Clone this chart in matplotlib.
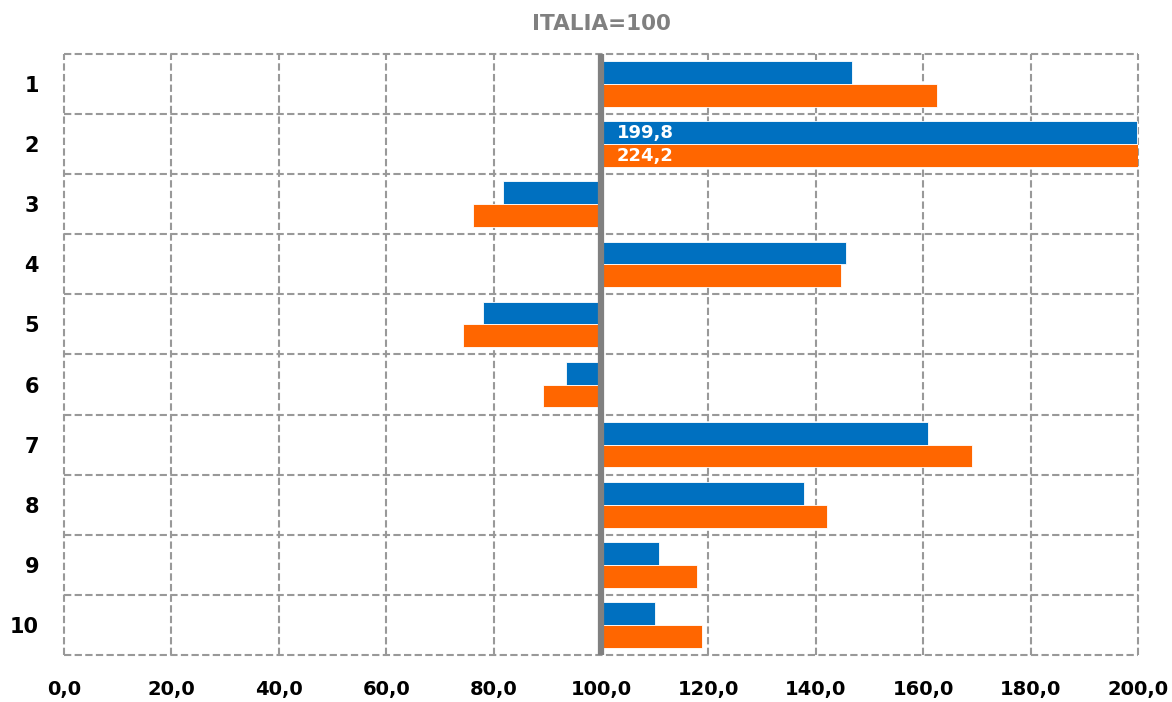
import matplotlib
matplotlib.use("Agg")
import matplotlib.pyplot as plt
import numpy as np

categories = ["1", "2", "3", "4", "5", "6", "7", "8", "9", "10"]
serie_a = [146.8, 199.8, 81.7, 145.7, 78.1, 93.4, 160.9, 137.8, 110.8, 110.1]
serie_b = [162.6, 224.2, 76.2, 144.7, 74.3, 89.2, 169.1, 142.1, 117.8, 118.9]
base = 100
labelled = [1]  # rows whose bars run past the axis

BLUE = "#0070C0"
ORANGE = "#FF6600"
GRID = "#999999"

def fmt(v):
    return f"{v:.1f}".replace(".", ",")

fig = plt.figure(figsize=(11.72, 7.02), dpi=100)
ax = fig.add_axes([64 / 1172, 1 - 655 / 702, (1138 - 64) / 1172, (655 - 54) / 702])

y = np.arange(len(categories))
h = 0.38
a = np.array(serie_a)
b = np.array(serie_b)
ax.barh(y - 0.19, a - base, left=base, height=h, color=BLUE,
        edgecolor="white", linewidth=0.6, zorder=2)
ax.barh(y + 0.19, b - base, left=base, height=h, color=ORANGE,
        edgecolor="white", linewidth=0.6, zorder=2)

for i in labelled:
    ax.text(base + 3, y[i] - 0.19, fmt(serie_a[i]), color="white",
            fontsize=13, fontweight="bold", va="center", ha="left", zorder=4)
    ax.text(base + 3, y[i] + 0.19, fmt(serie_b[i]), color="white",
            fontsize=13, fontweight="bold", va="center", ha="left", zorder=4)

# thick axis line at the reference value
ax.axvline(base, color="#808080", linewidth=4.5, zorder=3)

ax.set_xlim(0, 200)
ax.set_ylim(len(categories) - 0.5, -0.5)
ax.set_xticks(np.arange(0, 201, 20))
ax.xaxis.set_major_formatter(plt.FuncFormatter(lambda v, p: fmt(v)))
ax.set_yticks(y)
ax.set_yticklabels(categories)
ax.set_yticks(np.arange(-0.5, len(categories), 1), minor=True)

for s in ax.spines.values():
    s.set_visible(False)

dash = (0, (3.5, 1.6))
ax.grid(True, axis="x", which="major", color=GRID, linestyle=dash,
        linewidth=1.5, zorder=0)
ax.grid(True, axis="y", which="minor", color=GRID, linestyle=dash,
        linewidth=1.5, zorder=0)
for t in ax.xaxis.get_major_ticks() + ax.yaxis.get_minor_ticks():
    t.gridline.set_clip_on(False)

ax.tick_params(axis="both", which="both", length=0)
ax.tick_params(axis="x", pad=18, labelsize=14)
ax.tick_params(axis="y", pad=18, labelsize=15)
for t in ax.get_xticklabels() + ax.get_yticklabels():
    t.set_fontweight("bold")

fig.text(601 / 1172, 1 - 24 / 702, "ITALIA=100", color="#808080",
         fontsize=15.5, fontweight="bold", ha="center", va="center")

fig.savefig("out.png", dpi=100)
